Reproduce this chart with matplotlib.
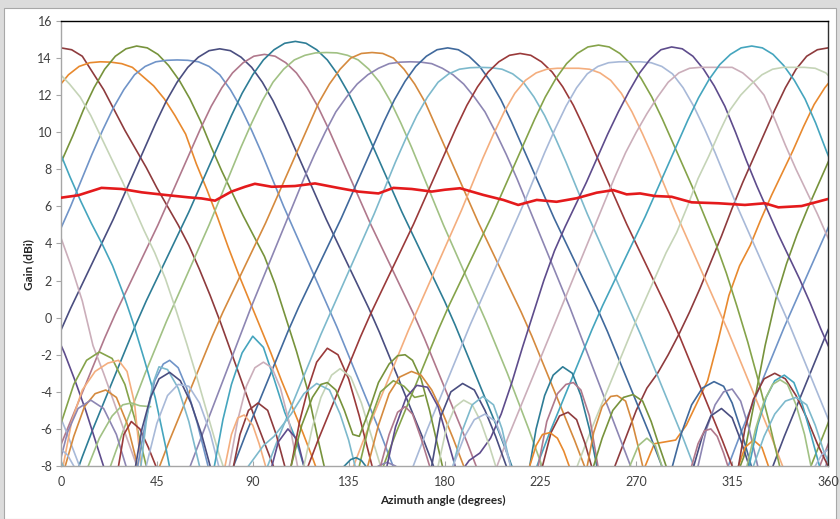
import numpy as np
import matplotlib
matplotlib.use("Agg")
import matplotlib.pyplot as plt
from matplotlib.patches import Rectangle

plt.rcParams['font.family'] = ['Lato', 'DejaVu Sans']

# ---------------- data ----------------
x_ticks = [0, 45, 90, 135, 180, 225, 270, 315, 360]
y_ticks = [-8, -6, -4, -2, 0, 2, 4, 6, 8, 10, 12, 14, 16]

beam_keys = list("ABCDEFGHIJKLMNOPQRST")
beam_colors = {
    "A": "#8E3B3D", "B": "#E8892E", "C": "#77933C", "D": "#7094C8",
    "E": "#4A4E80", "F": "#B0788C", "G": "#2E7D96", "H": "#A1C184",
    "I": "#D58A3E", "J": "#8D86B3", "K": "#40699C", "L": "#7DB9CC",
    "M": "#9A3A3A", "N": "#F4AE7E", "O": "#85A34A", "P": "#A8B9D8",
    "Q": "#5E4C8C", "R": "#CBAEBA", "S": "#45A5BE", "T": "#C5D4B7",
}
beam_peak_deg = [0.0, 18.5, 35.5, 54.5, 74.5, 95.5, 110.0, 124.5, 146.0, 164.0,
                 181.5, 197.0, 215.5, 238.0, 252.3, 267.0, 286.6, 305.0, 324.2, 344.0]

# distance from the beam peak (degrees) at which gains are listed
lobe_offset = [0, 5, 10, 15, 20, 25, 30, 35, 40, 45, 50, 55, 60, 65, 70, 75, 80, 85, 90, 95, 100, 105]

gain_right = {
    "A": [14.55, 14.45, 14.1, 13.2, 12.3, 11.2, 10.1, 9.1, 8.1, 7.0, 6.0, 5.0, 3.9, 2.6, 1.2, -0.3, -1.9, -3.5, -5.1, -6.6, -8.1, -9.5],
    "B": [13.8, 13.78, 13.7, 13.5, 13.0, 12.5, 11.8, 10.9, 9.9, 8.3, 6.9, 5.4, 3.8, 2.3, 0.9, -0.5, -1.9, -3.4, -4.8, -6.2, -7.7, -9.3],
    "C": [14.65, 14.55, 14.2, 13.6, 12.8, 11.8, 10.6, 9.2, 7.9, 6.7, 5.5, 4.4, 3.3, 1.8, 0.0, -1.8, -3.8, -6.5, -9.0, -10, -10, -10],
    "D": [13.9, 13.88, 13.8, 13.55, 13.1, 12.3, 11.3, 10.1, 8.8, 7.4, 6.0, 4.7, 3.4, 2.1, 0.8, -0.5, -1.9, -3.3, -4.7, -6.1, -7.6, -9.1],
    "E": [14.5, 14.4, 14.05, 13.5, 12.7, 11.7, 10.5, 9.2, 7.9, 6.6, 5.3, 4.1, 2.9, 1.7, 0.5, -0.8, -2.2, -3.6, -5.0, -6.4, -7.9, -9.5],
    "F": [14.2, 14.1, 13.75, 13.2, 12.4, 11.4, 10.2, 8.9, 7.6, 6.3, 5.0, 3.8, 2.6, 1.4, 0.2, -1.1, -2.5, -3.9, -5.3, -6.7, -8.2, -9.8],
    "G": [14.9, 14.8, 14.45, 13.9, 13.1, 12.1, 10.9, 9.6, 8.3, 7.0, 5.7, 4.5, 3.3, 2.1, 0.9, -0.4, -1.8, -3.2, -4.6, -6.0, -7.5, -9.1],
    "H": [14.3, 14.28, 14.15, 13.9, 13.4, 12.7, 11.7, 10.5, 9.2, 7.8, 6.4, 5.0, 3.7, 2.4, 1.1, -0.2, -1.6, -3.0, -4.5, -6.0, -7.6, -9.2],
    "I": [14.3, 14.25, 14.0, 13.4, 12.6, 11.6, 10.3, 9.0, 7.7, 6.4, 5.1, 3.9, 2.7, 1.5, 0.3, -1.0, -2.4, -3.8, -5.2, -6.6, -8.1, -9.7],
    "J": [13.8, 13.78, 13.7, 13.45, 13.1, 12.6, 11.9, 11.1, 10.0, 8.8, 7.5, 6.1, 4.7, 3.3, 1.9, 0.5, -1.0, -2.5, -4.0, -5.5, -7.0, -8.5],
    "K": [14.55, 14.45, 14.1, 13.55, 12.75, 11.75, 10.55, 9.25, 7.95, 6.65, 5.35, 4.15, 2.95, 1.75, 0.55, -0.75, -2.15, -3.55, -4.95, -6.35, -7.85, -9.45],
    "L": [13.5, 13.48, 13.4, 13.15, 12.7, 11.9, 10.9, 9.7, 8.4, 7.0, 5.6, 4.3, 3.0, 1.7, 0.4, -0.9, -2.3, -3.7, -5.1, -6.5, -8.0, -9.5],
    "M": [14.25, 14.15, 13.8, 13.25, 12.45, 11.45, 10.25, 8.95, 7.65, 6.35, 5.05, 3.85, 2.65, 1.45, 0.25, -1.05, -2.45, -3.85, -5.25, -6.65, -8.15, -9.75],
    "N": [13.45, 13.45, 13.4, 13.2, 12.8, 12.1, 11.1, 9.9, 8.6, 7.2, 5.8, 4.5, 3.2, 1.9, 0.6, -0.7, -2.1, -3.5, -4.9, -6.3, -7.8, -9.3],
    "O": [14.7, 14.6, 14.25, 13.7, 12.9, 11.9, 10.7, 9.4, 8.1, 6.8, 5.4, 4.0, 2.4, 0.6, -1.3, -3.4, -5.6, -8.0, -10, -10, -10, -10],
    "P": [13.8, 13.8, 13.75, 13.55, 13.15, 12.4, 11.4, 10.2, 8.9, 7.5, 6.1, 4.8, 3.5, 2.2, 0.9, -0.4, -1.8, -3.2, -4.6, -6.0, -7.5, -9.0],
    "Q": [14.6, 14.5, 14.1, 13.4, 12.5, 11.4, 10.0, 8.5, 7.1, 5.8, 4.5, 3.3, 2.1, 0.8, -0.6, -1.9, -3.4, -5.0, -6.8, -8.6, -10, -10],
    "R": [13.5, 13.5, 13.5, 13.2, 12.7, 12.0, 10.7, 9.3, 8.0, 6.8, 5.6, 4.3, 2.7, 0.9, -1.5, -3.0, -4.6, -6.2, -7.8, -9.4, -10, -10],
    "S": [14.65, 14.55, 14.2, 13.6, 12.8, 11.8, 10.5, 9.0, 7.6, 6.3, 5.1, 4.0, 2.8, 1.3, -0.4, -2.3, -4.3, -7.0, -10, -10, -10, -10],
    "T": [13.5, 13.5, 13.45, 13.2, 12.6, 11.9, 10.9, 9.7, 8.5, 7.3, 6.0, 4.7, 3.5, 2.1, 0.4, -1.4, -3.3, -5.3, -7.3, -9.0, -10, -10],
}
# beams whose falling edge on the low-angle side differs from the other side
gain_left = {
    "A": [14.55, 14.45, 14.1, 13.4, 12.4, 11.2, 9.9, 8.6, 7.3, 5.9, 4.4, 3.0, 1.6, 0.3, -0.9, -2.0, -3.0, -3.8, -5.0, -6.5, -8.0, -9.5],
    "B": [13.8, 13.75, 13.55, 13.1, 12.4, 11.5, 10.3, 9.0, 7.8, 6.6, 5.3, 3.9, 2.8, 1.2, -1.2, -3.4, -4.6, -5.8, -6.6, -6.7, -6.8, -8.2],
    "C": [14.65, 14.5, 14.1, 13.4, 12.4, 11.2, 9.8, 8.5, 7.2, 5.9, 4.5, 2.9, 1.0, -1.5, -4.5, -7.5, -9, -10, -10, -10, -10, -10],
    "O": [14.7, 14.6, 14.25, 13.7, 12.9, 11.9, 10.7, 9.4, 8.1, 6.8, 5.5, 4.3, 3.1, 1.9, 0.7, -0.6, -2.0, -3.4, -4.8, -6.2, -7.7, -9.3],
    "Q": [14.6, 14.45, 13.95, 13.2, 12.2, 11.1, 9.9, 8.6, 7.3, 6.1, 4.9, 3.6, 2.0, 0.2, -1.6, -3.5, -5.2, -6.5, -7.3, -7.7, -8.5, -10],
    "R": [13.5, 13.5, 13.45, 13.2, 12.7, 11.9, 11.0, 10.0, 8.9, 7.6, 6.2, 4.8, 3.4, 2.0, 0.6, -0.8, -2.2, -3.6, -5.0, -6.4, -7.9, -9.4],
    "S": [14.65, 14.55, 14.2, 13.65, 12.85, 11.85, 10.65, 9.35, 8.05, 6.75, 5.45, 4.25, 3.05, 1.85, 0.65, -0.65, -2.05, -3.45, -4.85, -6.25, -7.75, -9.35],
    "T": [13.5, 13.5, 13.4, 13.1, 12.6, 12.0, 11.2, 10.0, 8.7, 7.5, 6.0, 4.6, 3.5, 2.2, 0.9, -0.4, -1.8, -3.2, -4.6, -6.0, -7.5, -9.0],
}

# side lobes: (beam, angles, gains)
side_lobes = [
    ("O", [-8, 0, 6, 12, 18, 24, 30, 35, 40], [-8, -5.7, -3.6, -2.3, -1.85, -2.2, -3.6, -5.6, -8]),
    ("N", [1, 5, 10, 16, 22, 27, 31, 34.5, 37.5], [-8, -5.6, -3.9, -2.9, -2.45, -2.3, -2.9, -4.6, -8]),
    ("I", [2, 6, 11, 16, 21, 26, 31, 36], [-8, -6.4, -4.8, -4.1, -3.9, -4.3, -5.7, -8]),
    ("J", [-1, 3, 8, 14, 20, 26, 30.5], [-8, -6.2, -4.9, -4.45, -4.9, -6.3, -8]),
    ("M", [27, 29.5, 33, 37, 41, 44.5], [-8, -6.3, -5.6, -6.0, -7.0, -8]),
    ("H", [12.8, 18, 24, 29, 33, 37, 42], [-8, -6.5, -5.3, -4.7, -4.6, -4.75, -4.8]),
    ("D", [36, 40, 44, 48, 51, 55, 59, 64, 69], [-8, -5.4, -3.4, -2.5, -2.3, -2.7, -3.8, -5.7, -8]),
    ("L", [37.5, 40, 43, 46, 50, 55, 60, 65], [-8, -5.6, -3.6, -2.65, -2.8, -3.8, -5.6, -8]),
    ("E", [35, 38, 42, 46, 51, 56, 61, 66, 70], [-8, -6, -4.3, -3.3, -2.95, -3.4, -4.6, -6.3, -8]),
    ("P", [40, 45, 50, 55, 60, 65, 70, 74], [-8, -5.7, -4.2, -3.6, -3.7, -4.6, -6.2, -8]),
    ("S", [72, 76, 80, 85, 90, 95, 100, 105, 110, 114], [-8, -5.5, -3.6, -1.9, -1.0, -1.6, -3.3, -5.1, -6.5, -8]),
    ("R", [79, 83, 87, 91, 95, 99, 103, 107, 111], [-8, -5.5, -3.7, -2.7, -2.4, -2.7, -3.8, -5.6, -8]),
    ("A", [81, 84, 88, 92.5, 97, 101, 105], [-8, -6.3, -5.0, -4.6, -5.0, -6.3, -8]),
    ("N", [77, 80, 83, 86, 90, 93, 96], [-8, -6.3, -5.4, -5.25, -5.8, -6.8, -8]),
    ("Q", [99, 102, 106.5, 111, 114], [-8, -6.7, -6.0, -6.6, -8]),
    ("M", [108, 112, 116, 120, 125, 130, 135, 140, 146], [-8, -5.6, -3.8, -2.4, -1.65, -2.0, -3.3, -5.3, -8]),
    ("T", [114, 118, 122, 127, 131, 136, 141, 146, 150], [-8, -5.9, -4.3, -3.1, -2.75, -3.2, -4.6, -6.5, -8]),
    ("L", [88, 95, 100, 108, 114, 120, 126, 131, 135, 138], [-8, -6.9, -6.4, -5.2, -4.1, -3.55, -3.9, -5.2, -6.6, -8]),
    ("C", [108, 113, 118, 122, 125, 129, 133, 137, 140, 144, 149, 154, 158, 161.5, 165, 169, 173, 177, 179],
          [-8, -5.8, -4.3, -3.6, -3.5, -3.9, -5.0, -6.3, -6.4, -5.2, -3.5, -2.5, -2.05, -2.0, -2.3, -3.3, -5.0, -7.0, -8]),
    ("O", [140, 145, 150, 156, 161, 166, 170], [-8, -5.6, -4.0, -3.4, -3.7, -4.3, -4.2]),
    ("G", [133, 136, 138.5, 141, 143], [-8, -7.65, -7.55, -7.7, -8]),
    ("J", [149, 153, 157], [-8, -7.8, -8]),
    ("I", [144, 149, 154, 159, 164.5, 169, 174, 179, 184, 189], [-8, -5.8, -4.1, -3.2, -2.9, -3.1, -3.9, -5.1, -6.5, -8]),
    ("Q", [153, 157, 162, 167, 172, 177, 181, 185], [-8, -5.9, -4.3, -3.65, -3.75, -4.8, -6.4, -8]),
    ("F", [150, 154, 158, 161.5, 165, 169, 173], [-8, -6.3, -5.1, -4.8, -5.2, -6.5, -8]),
    ("E", [174, 178, 183, 188.5, 194, 199, 204, 209], [-8, -5.4, -4.0, -3.55, -3.9, -5.0, -6.4, -8]),
    ("T", [177, 181, 185, 189, 193, 197, 201, 204], [-8, -5.9, -4.8, -4.45, -4.7, -5.6, -6.9, -8]),
    ("L", [184, 188, 193, 198, 203, 207, 211], [-8, -6.2, -4.7, -4.25, -4.7, -6.0, -8]),
    ("P", [184, 189, 194, 199, 204, 208, 211], [-8, -6.5, -5.5, -5.2, -5.6, -6.8, -8]),
    ("G", [220, 223, 227, 231, 235.5, 240, 244, 248, 251.5], [-8, -6.0, -4.2, -3.1, -2.65, -3.0, -4.2, -6.0, -8]),
    ("F", [224, 228, 233, 237, 240.5, 244, 248, 252], [-8, -5.6, -4.1, -3.6, -3.5, -3.9, -5.3, -8]),
    ("A", [226, 230, 234, 238, 242, 246, 249], [-8, -6.2, -5.3, -5.1, -5.5, -6.8, -8]),
    ("B", [220, 223, 226, 229.5, 233, 236, 238.5], [-8, -6.9, -6.3, -6.2, -6.5, -7.2, -8]),
    ("I", [247, 250, 254, 258, 261, 265, 268, 271, 273], [-8, -6.2, -4.8, -4.25, -4.2, -4.5, -5.6, -7.0, -8]),
    ("C", [250, 254, 259, 264, 268.5, 273, 277, 281, 284], [-8, -6.5, -5.0, -4.3, -4.15, -4.5, -5.6, -7.0, -8]),
    ("H", [267, 271, 275, 279, 282], [-8, -6.9, -6.5, -6.9, -8]),
    ("K", [287, 291, 296, 301, 306.5, 311, 315, 319, 324], [-8, -6.3, -4.7, -3.8, -3.45, -3.7, -4.6, -6.0, -8]),
    ("J", [299, 303, 307, 311, 315, 319, 323, 327], [-8, -6.0, -4.7, -4.0, -3.85, -4.5, -6.0, -8]),
    ("E", [297, 301, 305, 310, 315, 319, 323], [-8, -6.4, -5.3, -4.9, -5.4, -6.6, -8]),
    ("F", [296, 299, 302, 305, 308, 311, 313], [-8, -6.8, -6.1, -6.0, -6.4, -7.3, -8]),
    ("B", [318, 321, 325, 329, 332], [-8, -7.0, -6.6, -7.0, -8]),
    ("A", [318, 321, 325, 330, 335, 340, 345, 350, 355, 360], [-8, -6.0, -4.4, -3.3, -3.0, -3.3, -4.2, -5.4, -6.8, -8]),
    ("S", [323, 327, 331, 335, 339.5, 344, 348, 352, 356], [-8, -5.8, -4.3, -3.4, -3.1, -3.5, -4.7, -6.3, -8]),
    ("H", [322, 326, 330, 334, 337.5, 341, 345, 349, 352], [-8, -6.0, -4.5, -3.6, -3.35, -3.6, -4.7, -6.3, -8]),
    ("L", [325, 330, 335, 340, 345, 350, 354, 358, 361], [-8, -6.4, -5.2, -4.5, -4.3, -4.7, -5.8, -7.2, -8]),
    ("P", [354, 357, 360, 363, 366], [-8, -7.4, -7.1, -7.4, -8]),
]

# combined (red) curve
red_deg = [0, 8.1, 19, 28.5, 37.9, 48.8, 59.8, 66, 72.3, 80, 86.4, 91, 98.9, 109.8, 119.2, 130,
           139.5, 149, 156, 164.6, 174, 180.2, 187.3, 198.2, 207.6, 214.6, 223.3, 232.6, 242,
           251.4, 259.2, 265.5, 271.8, 278.8, 286.6, 296, 308.5, 321, 330.4, 336.7, 347.6, 360]
red_gain = [6.47, 6.6, 7.0, 6.94, 6.76, 6.62, 6.49, 6.43, 6.31, 6.8, 7.06, 7.22, 7.06, 7.1, 7.24, 7.0,
            6.8, 6.7, 7.0, 6.94, 6.8, 6.9, 6.98, 6.62, 6.35, 6.08, 6.35, 6.25, 6.44,
            6.74, 6.88, 6.65, 6.7, 6.56, 6.52, 6.22, 6.17, 6.08, 6.17, 5.95, 6.02, 6.4]

# ---------------- figure ----------------
W, H = 840, 519
fig = plt.figure(figsize=(W / 100, H / 100), dpi=100, facecolor="#DCDCDC")
panel = Rectangle((4 / W, 0), 832 / W, 511 / H, transform=fig.transFigure,
                  facecolor="white", edgecolor="#A8A8A8", lw=0.8, zorder=-10)
fig.add_artist(panel)

ax = fig.add_axes([61 / W, 1 - 466 / H, 767 / W, 445 / H])
ax.set_zorder(5)
ax.set_facecolor("white")

off = np.array(lobe_offset, dtype=float)
for key, peak in zip(beam_keys, beam_peak_deg):
    right = gain_right[key]
    left = gain_left.get(key, right)
    ang = np.concatenate([peak - off[::-1][:-1], peak + off])
    g = np.array(list(left[::-1][:-1]) + list(right))
    for shift in (-360, 0, 360):
        ax.plot(ang + shift, g, color=beam_colors[key], lw=1.2,
                solid_joinstyle="round", zorder=2)

for key, a, g in side_lobes:
    a = np.array(a, dtype=float)
    for shift in (-360, 0, 360):
        ax.plot(a + shift, g, color=beam_colors[key], lw=1.2,
                solid_joinstyle="round", zorder=2)

ax.plot(red_deg, red_gain, color="#E41A1C", lw=1.9, solid_joinstyle="round", zorder=5)

ax.set_xlim(0, 360)
ax.set_ylim(-8, 16)
ax.set_xticks(x_ticks)
ax.set_yticks(y_ticks)
ax.set_xticklabels([str(v) for v in x_ticks])
ax.set_yticklabels([str(v) for v in y_ticks])

for s in ("left", "bottom"):
    ax.spines[s].set_color("#A6A6A6")
    ax.spines[s].set_linewidth(1.0)
ax.spines["top"].set_color("#000000")
ax.spines["top"].set_linewidth(1.0)
ax.spines["right"].set_color("#303030")
ax.spines["right"].set_linewidth(1.0)

ax.tick_params(axis="y", direction="out", length=3.5, width=0.8, color="#A6A6A6",
               labelsize=9, labelcolor="#404040", pad=3)
ax.tick_params(axis="x", direction="in", length=3.5, width=0.8, color="#A6A6A6",
               labelsize=9, labelcolor="#404040", pad=7)

fig.text(29 / W, 1 - 265 / H, "Gain (dBi)", rotation=90, ha="center", va="center",
         fontsize=8.5, fontweight="bold", color="#262626")
fig.text(443 / W, 1 - 500 / H, "Azimuth angle (degrees)", ha="center", va="center",
         fontsize=8.5, fontweight="bold", color="#262626")

fig.savefig("out.png", dpi=100, facecolor=fig.get_facecolor())
